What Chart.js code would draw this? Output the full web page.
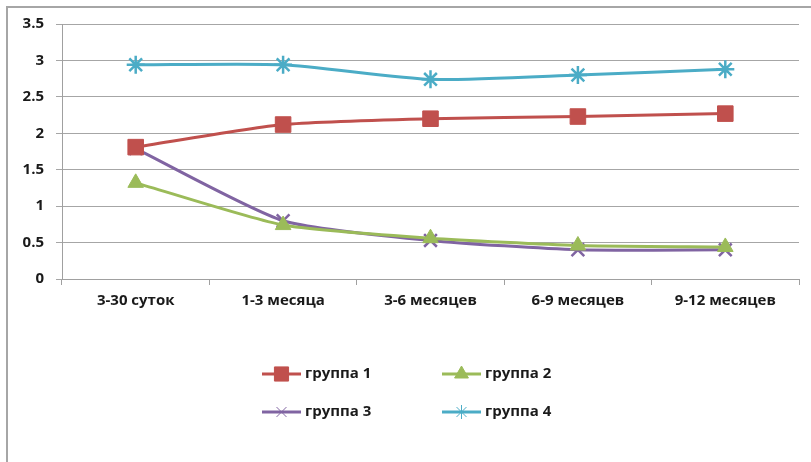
<!DOCTYPE html>
<html>
<head>
<meta charset="utf-8">
<script src="https://cdn.jsdelivr.net/npm/chart.js@4/dist/chart.umd.min.js"></script>
<style>
  html, body { margin: 0; padding: 0; background: #fff; }
  #wrap { position: relative; width: 811px; height: 462px; }
  #frame { position: absolute; left: 6px; top: 6px; right: 0; bottom: 0;
           border-left: 2px solid #a6a6a6; border-top: 2px solid #a6a6a6; }
  canvas { position: absolute; left: 0; top: 0; }
</style>
</head>
<body>
<div id="wrap">
  <div id="frame"></div>
  <canvas id="chart" width="811" height="462"></canvas>
</div>
<script>
const periods = ["3-30 суток", "1-3 месяца", "3-6 месяцев", "6-9 месяцев", "9-12 месяцев"];
const group1 = [1.81, 2.12, 2.20, 2.23, 2.27];
const group2 = [1.32, 0.74, 0.56, 0.46, 0.44];
const group3 = [1.79, 0.80, 0.53, 0.40, 0.40];
const group4 = [2.94, 2.94, 2.74, 2.80, 2.88];
const seriesNames = ["группа 1", "группа 2", "группа 3", "группа 4"];

const font = "'Open Sans', 'DejaVu Sans', sans-serif";

function series(label, data, color, style, radius, filled) {
  return {
    label, data,
    borderColor: color,
    backgroundColor: color,
    borderWidth: 3,
    tension: 0.2,
    pointStyle: style,
    pointRadius: radius,
    pointHoverRadius: radius,
    pointBackgroundColor: filled ? color : "transparent",
    pointBorderColor: color,
    pointBorderWidth: filled ? 1 : 2.5
  };
}

// 2x2 legend under the chart, like the Excel one
const legendGrid = {
  id: "legendGrid",
  afterDraw(chart) {
    const ctx = chart.ctx;
    const cols = [262, 442];
    const rows = [374, 412];
    chart.data.datasets.forEach((ds, i) => {
      const x = cols[i % 2], y = rows[Math.floor(i / 2)];
      const thin = ds.pointStyle === "crossRot" || ds.pointStyle === "star";
      ctx.save();
      ctx.strokeStyle = ds.borderColor;
      ctx.lineWidth = 3;
      ctx.beginPath();
      ctx.moveTo(x, y);
      ctx.lineTo(x + 39, y);
      ctx.stroke();
      ctx.fillStyle = ds.pointBackgroundColor;
      ctx.strokeStyle = ds.pointBorderColor;
      ctx.lineWidth = thin ? 1 : ds.pointBorderWidth;
      Chart.helpers.drawPoint(ctx, {
        pointStyle: ds.pointStyle, radius: thin ? 7 : ds.pointRadius - 1, rotation: 0,
        borderWidth: ctx.lineWidth
      }, x + 19.5, y);
      ctx.fillStyle = "#1a1a1a";
      ctx.font = "bold 15px " + font;
      ctx.textBaseline = "middle";
      ctx.fillText(ds.label, x + 43, y);
      ctx.restore();
    });
  }
};

new Chart(document.getElementById("chart"), {
  type: "line",
  data: {
    labels: periods,
    datasets: [
      series(seriesNames[0], group1, "#c0504d", "rect", 11, true),
      series(seriesNames[1], group2, "#9bbb59", "triangle", 9, true),
      series(seriesNames[2], group3, "#8064a2", "crossRot", 9, false),
      series(seriesNames[3], group4, "#4bacc6", "star", 9, false)
    ]
  },
  options: {
    responsive: false,
    animation: false,
    layout: { padding: { top: 24, right: 9, bottom: 143, left: 0 } },
    plugins: { legend: { display: false }, tooltip: { enabled: false } },
    scales: {
      x: {
        offset: true,
        grid: { offset: true, drawOnChartArea: false, tickLength: 6, color: "#a0a0a0" },
        border: { color: "#a0a0a0", width: 1 },
        ticks: { color: "#1a1a1a", font: { family: font, size: 15, weight: "bold" }, padding: 7, maxRotation: 0 },
        afterFit(scale) { scale.height = 40; }
      },
      y: {
        min: 0, max: 3.5,
        ticks: {
          stepSize: 0.5, color: "#1a1a1a", font: { family: font, size: 15, weight: "bold" }, padding: 12,
          callback: v => String(v)
        },
        grid: { color: "#a6a6a6", tickLength: 6 },
        border: { color: "#a0a0a0", width: 1 },
        afterFit(scale) { scale.width = 62; }
      }
    }
  },
  plugins: [legendGrid]
});
</script>
</body>
</html>
